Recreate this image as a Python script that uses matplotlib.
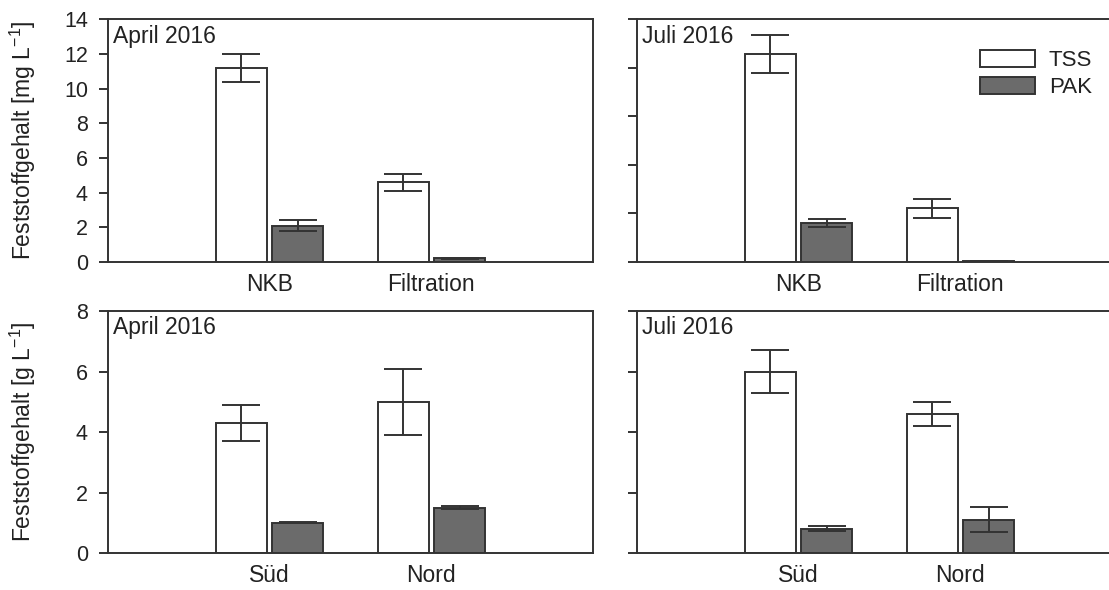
import matplotlib.pyplot as plt
import numpy as np

plt.rcParams['font.family'] = ['Liberation Sans', 'DejaVu Sans']

# Daten
cats_top = ['NKB', 'Filtration']
cats_bot = ['Süd', 'Nord']

tss_apr_top = [11.2, 4.6]
tss_apr_top_err = [0.8, 0.5]
pak_apr_top = [2.1, 0.2]
pak_apr_top_err = [0.3, 0.05]

tss_jul_top = [12.0, 3.1]
tss_jul_top_err = [1.1, 0.55]
pak_jul_top = [2.25, 0.05]
pak_jul_top_err = [0.22, 0.02]

tss_apr_bot = [4.3, 5.0]
tss_apr_bot_err = [0.6, 1.1]
pak_apr_bot = [1.0, 1.5]
pak_apr_bot_err = [0.02, 0.05]

tss_jul_bot = [6.0, 4.6]
tss_jul_bot_err = [0.7, 0.4]
pak_jul_bot = [0.8, 1.1]
pak_jul_bot_err = [0.08, 0.42]

edge = '#333333'
grau = '#6b6b6b'
txt = '#222222'

fig = plt.figure(figsize=(11.09, 5.9), dpi=100)

ax1 = fig.add_axes([0.0974, 0.556, 0.4373, 0.4114])
ax2 = fig.add_axes([0.5744, 0.556, 0.4373, 0.4114])
ax3 = fig.add_axes([0.0974, 0.0627, 0.4373, 0.410])
ax4 = fig.add_axes([0.5744, 0.0627, 0.4373, 0.410])

def panel(ax, cats, tss, tss_e, pak, pak_e, title, ymax, yticks, labels=True):
    x = np.arange(1, len(cats) + 1)
    w = 0.316
    ax.bar(x - 0.1745, tss, w, color='white', edgecolor=edge, lw=1.4, label='TSS', zorder=2)
    ax.bar(x + 0.1745, pak, w, color=grau, edgecolor=edge, lw=1.4, label='PAK', zorder=2)
    ax.errorbar(x - 0.1745, tss, yerr=tss_e, fmt='none', ecolor=edge, elinewidth=1.4,
                capsize=14, capthick=1.4, zorder=3)
    ax.errorbar(x + 0.1745, pak, yerr=pak_e, fmt='none', ecolor=edge, elinewidth=1.4,
                capsize=14, capthick=1.4, zorder=3)
    ax.set_xlim(0.0, 3.0)
    ax.set_ylim(0, ymax)
    ax.set_xticks(x)
    ax.set_xticklabels(cats, fontsize=16.5, color=txt)
    ax.tick_params(axis='x', length=0, pad=8)
    ax.set_yticks(yticks)
    ax.tick_params(axis='y', direction='out', length=6.5, width=1.4, color=edge,
                   labelsize=15.5, labelcolor=txt, pad=8)
    for s in ax.spines.values():
        s.set_color(edge)
        s.set_linewidth(1.4)
    if not labels:
        # rechte Spalte: Achse läuft über den Bildrand hinaus
        ax.set_yticklabels([])
        ax.spines['right'].set_visible(False)
    ax.text(0.011, 0.978, title, transform=ax.transAxes, ha='left', va='top',
            fontsize=16.5, color=txt)

panel(ax1, cats_top, tss_apr_top, tss_apr_top_err, pak_apr_top, pak_apr_top_err,
      'April 2016', 14, np.arange(0, 15, 2))
panel(ax2, cats_top, tss_jul_top, tss_jul_top_err, pak_jul_top, pak_jul_top_err,
      'Juli 2016', 14, np.linspace(0, 14, 6), labels=False)
panel(ax3, cats_bot, tss_apr_bot, tss_apr_bot_err, pak_apr_bot, pak_apr_bot_err,
      'April 2016', 8, np.arange(0, 9, 2))
panel(ax4, cats_bot, tss_jul_bot, tss_jul_bot_err, pak_jul_bot, pak_jul_bot_err,
      'Juli 2016', 8, np.arange(0, 9, 2), labels=False)

ax1.set_ylabel('Feststoffgehalt [mg L$^{\\mathregular{-1}}$]', fontsize=16.5, color=txt)
ax3.set_ylabel('Feststoffgehalt [g L$^{\\mathregular{-1}}$]', fontsize=16.5, color=txt)
ax1.yaxis.set_label_coords(-0.145, 0.5)
ax3.yaxis.set_label_coords(-0.145, 0.5)

leg = ax2.legend(loc='upper left', bbox_to_anchor=(0.707, 0.875), frameon=False,
                 fontsize=16, handlelength=2.5, handleheight=0.85, handletextpad=0.6,
                 labelspacing=0.25, borderaxespad=0, borderpad=0)
for t in leg.get_texts():
    t.set_color(txt)

fig.savefig('out.png', dpi=100)
